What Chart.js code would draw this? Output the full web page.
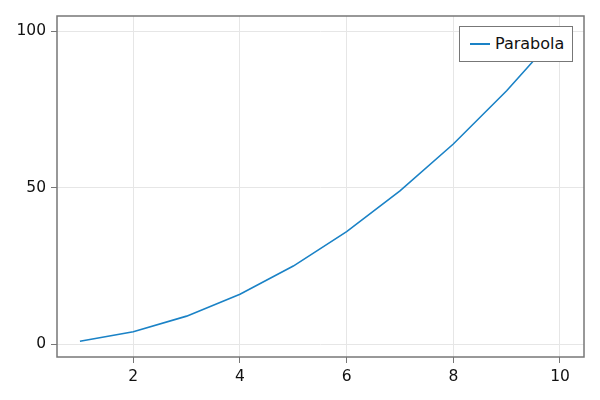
<!DOCTYPE html>
<html>
<head>
<meta charset="utf-8">
<script src="https://cdn.jsdelivr.net/npm/chart.js@4"></script>
<style>
  body { margin: 0; background: #fff; }
  #wrap { position: relative; width: 600px; height: 400px; }
  #legend {
    position: absolute; left: 459px; top: 26px; width: 112px; height: 34px;
    border: 1.5px solid #777; background: #fff;
    font-family: "DejaVu Sans", sans-serif; font-size: 16px; color: #111;
  }
  #legend .swatch {
    position: absolute; left: 10px; top: 16px; width: 20px; height: 2px;
  }
  #legend .label { position: absolute; left: 35px; top: 7px; }
</style>
</head>
<body>
<div id="wrap">
  <canvas id="chart" width="600" height="400"></canvas>
  <div id="legend"><span class="swatch"></span><span class="label"></span></div>
</div>
<script>
const seriesName = "Parabola";
const xValues = [1, 2, 3, 4, 5, 6, 7, 8, 9, 10];
const yValues = [1, 4, 9, 16, 25, 36, 49, 64, 81, 100];
const xTicks = [2, 4, 6, 8, 10];
const yTicks = [0, 50, 100];
const lineColor = "#1a82c6";

document.querySelector("#legend .swatch").style.background = lineColor;
document.querySelector("#legend .label").textContent = seriesName;

// frame on all four sides of the plot area
const frame = {
  id: "frame",
  afterDraw(chart) {
    const { ctx, chartArea: a } = chart;
    ctx.save();
    ctx.strokeStyle = "#777";
    ctx.lineWidth = 1.5;
    ctx.strokeRect(a.left, a.top, a.right - a.left, a.bottom - a.top);
    ctx.restore();
  },
};

const tickFont = { family: "DejaVu Sans", size: 15.5 };

new Chart(document.getElementById("chart").getContext("2d"), {
  type: "line",
  data: {
    datasets: [
      {
        label: seriesName,
        data: xValues.map((x, i) => ({ x: x, y: yValues[i] })),
        borderColor: lineColor,
        borderWidth: 1.6,
        pointRadius: 0,
        tension: 0,
      },
    ],
  },
  options: {
    responsive: false,
    animation: false,
    layout: { padding: { top: 16, right: 16, left: 0, bottom: 0 } },
    plugins: { legend: { display: false }, tooltip: { enabled: false } },
    scales: {
      x: {
        type: "linear",
        min: 0.57,
        max: 10.45,
        afterBuildTicks: (s) => { s.ticks = xTicks.map((v) => ({ value: v })); },
        afterFit: (s) => { s.height = 43; },
        grid: { color: "#e6e6e6", tickColor: "#777", tickLength: 6 },
        border: { display: false },
        ticks: { font: tickFont, color: "#111", padding: 5, maxRotation: 0 },
      },
      y: {
        min: -4.06,
        max: 104.9,
        afterBuildTicks: (s) => { s.ticks = yTicks.map((v) => ({ value: v })); },
        afterFit: (s) => { s.width = 57; },
        grid: { color: "#e6e6e6", tickColor: "#777", tickLength: 6 },
        border: { display: false },
        ticks: { font: tickFont, color: "#111", padding: 5 },
      },
    },
  },
  plugins: [frame],
});
</script>
</body>
</html>
